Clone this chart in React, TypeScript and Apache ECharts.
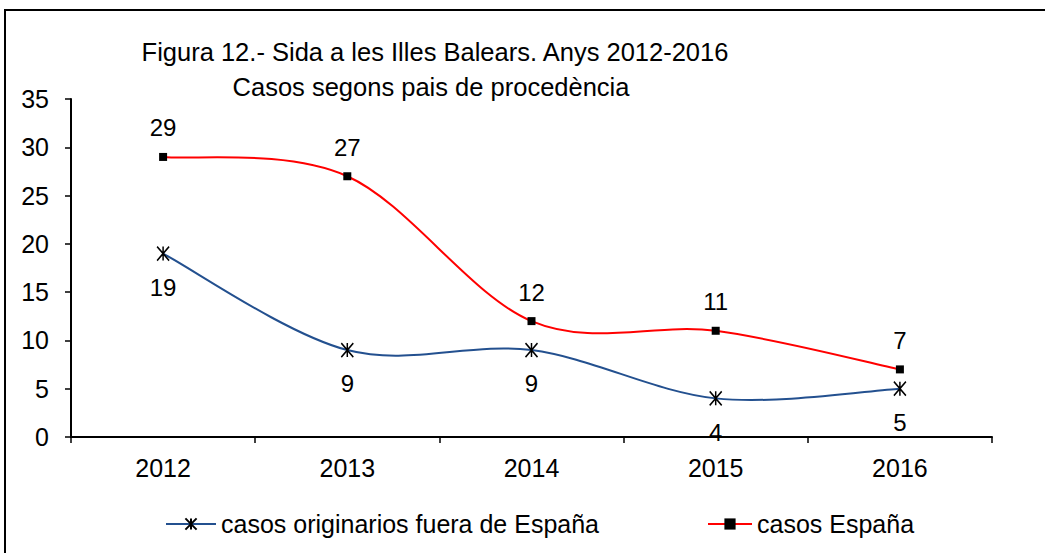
import React, { useEffect, useRef } from "react";
import * as echarts from "echarts";

const years = ["2012", "2013", "2014", "2015", "2016"];
const fueraEspana = [19, 9, 9, 4, 5];
const espana = [29, 27, 12, 11, 7];
const titleLine1 = "Figura 12.- Sida a les Illes Balears. Anys 2012-2016";
const titleLine2 = "Casos segons pais de procedència";
const seriesNames = ["casos originarios fuera de España", "casos España"];

const FONT = "Arial, 'Liberation Sans', sans-serif";
const ASTERISK = "path://M0,0L12,14M12,0L0,14M6,0L6,14";
const BLUE = "#23508F";
const RED = "#FF0000";

// Excel-like (Catmull-Rom) smoothed curve through the data, drawn via the axes' scales
function smoothCurve(values: number[], color: string) {
  return {
    type: "custom",
    data: values.map((v, i) => [i, v]),
    clip: false,
    silent: true,
    z: 1,
    renderItem: (params: any, api: any) => {
      if (params.dataIndex !== 0) return null;
      const pts = values.map((v, i) => api.coord([i, v]));
      const n = pts.length;
      const children: any[] = [];
      for (let i = 0; i < n - 1; i++) {
        const p0 = pts[Math.max(0, i - 1)];
        const p1 = pts[i];
        const p2 = pts[i + 1];
        const p3 = pts[Math.min(n - 1, i + 2)];
        children.push({
          type: "bezierCurve",
          shape: {
            x1: p1[0],
            y1: p1[1],
            cpx1: p1[0] + (p2[0] - p0[0]) / 6,
            cpy1: p1[1] + (p2[1] - p0[1]) / 6,
            cpx2: p2[0] - (p3[0] - p1[0]) / 6,
            cpy2: p2[1] - (p3[1] - p1[1]) / 6,
            x2: p2[0],
            y2: p2[1],
          },
          style: { stroke: color, lineWidth: 2, fill: "none" },
        });
      }
      return { type: "group", children };
    },
  };
}

export default function App() {
  const ref = useRef<HTMLDivElement>(null);
  useEffect(() => {
    if (!ref.current) return;
    const chart = echarts.init(ref.current, undefined, { renderer: "svg" });
    const legendText = { fontSize: 25, color: "#000", fontFamily: FONT, lineHeight: 26 };
    chart.setOption({
      animation: false,
      backgroundColor: "#fff",
      textStyle: { fontFamily: FONT },
      graphic: [
        {
          type: "rect",
          shape: { x: 5, y: 10, width: 1200, height: 800 },
          style: { fill: "none", stroke: "#000", lineWidth: 2 },
          silent: true,
        },
        {
          type: "text",
          x: 435,
          y: 52,
          style: {
            text: titleLine1,
            textAlign: "center",
            textVerticalAlign: "middle",
            font: `25.5px ${FONT}`,
            fill: "#000",
          },
        },
        {
          type: "text",
          x: 431,
          y: 87,
          style: {
            text: titleLine2,
            textAlign: "center",
            textVerticalAlign: "middle",
            font: `25.5px ${FONT}`,
            fill: "#000",
          },
        },
      ],
      grid: { left: 71, right: 53, top: 99, bottom: 116, containLabel: false },
      legend: [
        {
          left: 160,
          top: 506,
          itemWidth: 50,
          itemHeight: 14,
          itemGap: 5,
          data: [seriesNames[0]],
          lineStyle: { opacity: 1 },
          textStyle: legendText,
        },
        {
          left: 702,
          top: 506,
          itemWidth: 44,
          itemHeight: 14,
          data: [seriesNames[1]],
          lineStyle: { opacity: 1 },
          textStyle: legendText,
        },
      ],
      xAxis: {
        type: "category",
        data: years,
        boundaryGap: true,
        axisLine: { lineStyle: { color: "#000", width: 2 } },
        axisTick: { show: true, length: 6, lineStyle: { color: "#000", width: 1.5 } },
        axisLabel: { color: "#000", fontSize: 25, fontFamily: FONT, margin: 18 },
        splitLine: { show: false },
      },
      yAxis: {
        type: "value",
        min: 0,
        max: 35,
        interval: 5,
        axisLine: { show: true, lineStyle: { color: "#000", width: 2 } },
        axisTick: { show: true, length: 6, lineStyle: { color: "#000", width: 1.5 } },
        axisLabel: { color: "#000", fontSize: 25, fontFamily: FONT, margin: 22 },
        splitLine: { show: false },
      },
      series: [
        smoothCurve(fueraEspana, BLUE),
        smoothCurve(espana, RED),
        {
          name: seriesNames[0],
          type: "line",
          data: fueraEspana,
          symbol: ASTERISK,
          symbolSize: [12, 14],
          itemStyle: { color: "#000", borderColor: "#000", borderWidth: 1.6 },
          lineStyle: { color: BLUE, width: 2, opacity: 0 },
          label: {
            show: true,
            position: "bottom",
            distance: 14,
            color: "#000",
            fontSize: 24,
            fontFamily: FONT,
          },
          z: 3,
        },
        {
          name: seriesNames[1],
          type: "line",
          data: espana,
          symbol: "rect",
          symbolSize: 8,
          itemStyle: { color: "#000", borderWidth: 0 },
          lineStyle: { color: RED, width: 2, opacity: 0 },
          label: {
            show: true,
            position: "top",
            distance: 13,
            color: "#000",
            fontSize: 24,
            fontFamily: FONT,
          },
          z: 4,
        },
      ],
    });
    return () => chart.dispose();
  }, []);
  return (
    <div
      ref={ref}
      style={{ position: "fixed", left: 0, top: 0, width: 1045, height: 553 }}
    />
  );
}
